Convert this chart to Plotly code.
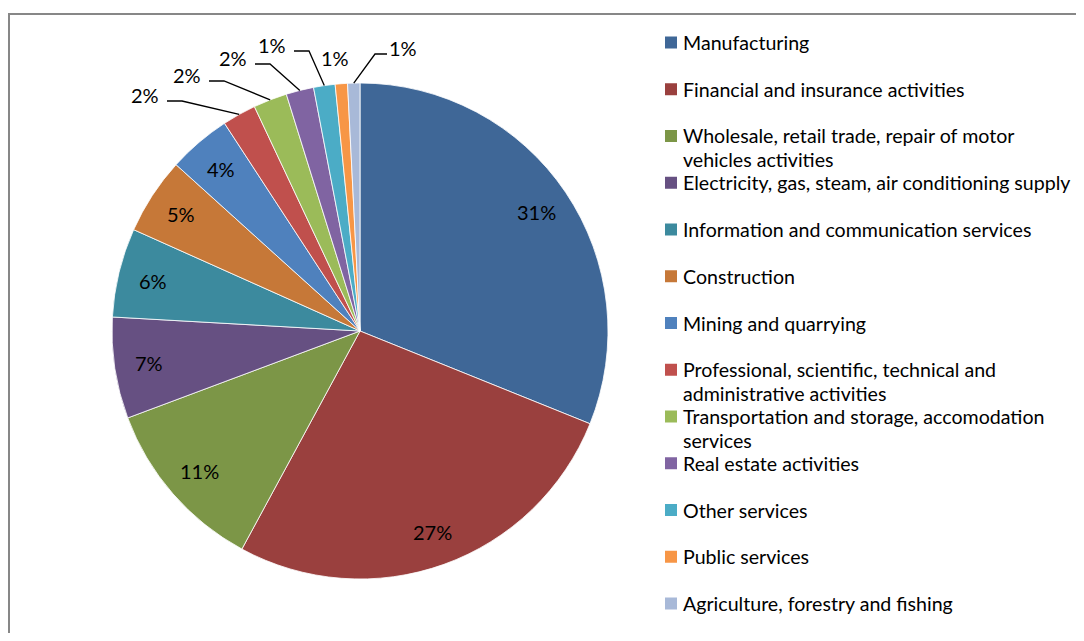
import math
import plotly.graph_objects as go

W, H = 1068, 625

# ---------------- data ----------------
sectors = [
    "Manufacturing",
    "Financial and insurance activities",
    "Wholesale, retail trade, repair of motor vehicles activities",
    "Electricity, gas, steam, air conditioning supply",
    "Information and communication services",
    "Construction",
    "Mining and quarrying",
    "Professional, scientific, technical and administrative activities",
    "Transportation and storage, accomodation services",
    "Real estate activities",
    "Other services",
    "Public services",
    "Agriculture, forestry and fishing",
]
shares = [31.1, 26.8, 11.4, 6.6, 5.8, 5.0, 4.1, 2.2, 2.2, 1.8, 1.4, 0.8, 0.8]
legend_lines = [
    ["Manufacturing"],
    ["Financial and insurance activities"],
    ["Wholesale, retail trade, repair of motor", "vehicles activities"],
    ["Electricity, gas, steam, air conditioning supply"],
    ["Information and communication services"],
    ["Construction"],
    ["Mining and quarrying"],
    ["Professional, scientific, technical and", "administrative activities"],
    ["Transportation and storage, accomodation", "services"],
    ["Real estate activities"],
    ["Other services"],
    ["Public services"],
    ["Agriculture, forestry and fishing"],
]

# ---------------- styles / layout ----------------
colors = ["#3F6797", "#9A403E", "#7C9647", "#665082", "#3C8A9E", "#C67838",
          "#4F81BD", "#C0504D", "#9BBB59", "#8064A2", "#4BACC6", "#F79646", "#A8B9D8"]
FONT = "Lato"
FS = 20
FS_LEG = 19.6
cx, cy, R = 360, 331, 248
OFF = 8  # page body margin in the browser

# outside label placement (pixel) for small slices: index -> (label center, elbow side)
outside = {
    7: ((145, 95), "right"),
    8: ((187, 75), "right"),
    9: ((233, 58), "right"),
    10: ((272, 45), "right"),
    11: ((335, 58), None),
    12: ((403, 48), "left"),
}

def X(px):
    return (px - OFF) / W

def Y(py):
    return 1 - (py - OFF) / H

fig = go.Figure(go.Pie(
    labels=sectors,
    values=shares,
    sort=False,
    direction="clockwise",
    rotation=0,
    marker=dict(colors=colors, line=dict(color="white", width=0.8)),
    textinfo="none",
    hoverinfo="label+percent",
    showlegend=False,
    domain=dict(x=[X(cx - R), X(cx + R)], y=[Y(cy + R), Y(cy - R)]),
))

annotations = []
shapes = []
total = sum(shares)
cum = 0.0
for i, v in enumerate(shares):
    mid = (cum + v / 2) / total * 2 * math.pi
    cum += v
    pct = f"{round(v / total * 100):.0f}%"
    if i not in outside:
        r = 0.86 * R
        lx = cx + r * math.sin(mid)
        ly = cy - r * math.cos(mid)
        annotations.append(dict(x=X(lx), y=Y(ly), xref="paper", yref="paper",
                                text=pct, showarrow=False,
                                font=dict(family=FONT, size=FS, color="black"),
                                xanchor="center", yanchor="middle"))
    else:
        (lx, ly), side = outside[i]
        annotations.append(dict(x=X(lx), y=Y(ly), xref="paper", yref="paper",
                                text=pct, showarrow=False,
                                font=dict(family=FONT, size=FS, color="black"),
                                xanchor="center", yanchor="middle"))
        if side:
            ex = cx + R * math.sin(mid)
            ey = cy - R * math.cos(mid)
            hy = ly + 6
            if side == "right":
                x0, x1 = lx + 22, lx + 37
            else:
                x0, x1 = lx - 16, lx - 28
            path = f"M {X(x0)} {Y(hy)} L {X(x1)} {Y(hy)} L {X(ex)} {Y(ey)}"
            shapes.append(dict(type="path", path=path, xref="paper", yref="paper",
                               line=dict(color="black", width=1.3)))

# manual legend (Excel style, fixed row pitch)
top, step, lh = 42.5, 46.75, 24
for i, lines in enumerate(legend_lines):
    yc = top + i * step
    shapes.append(dict(type="rect", xref="paper", yref="paper",
                       x0=X(665), x1=X(677), y0=Y(yc - 6), y1=Y(yc + 6),
                       fillcolor=colors[i], line=dict(width=0)))
    for j, t in enumerate(lines):
        annotations.append(dict(x=X(681), y=Y(yc + j * lh), xref="paper", yref="paper",
                                text=t, showarrow=False,
                                font=dict(family=FONT, size=FS_LEG, color="black"),
                                xanchor="left", yanchor="middle"))

# chart frame
shapes.append(dict(type="rect", xref="paper", yref="paper",
                   x0=X(9), x1=X(1100), y0=Y(660), y1=Y(14),
                   line=dict(color="#878787", width=2), fillcolor="rgba(0,0,0,0)"))

fig.update_layout(
    width=W, height=H,
    margin=dict(l=0, r=0, t=0, b=0),
    paper_bgcolor="white",
    plot_bgcolor="white",
    annotations=annotations,
    shapes=shapes,
    font=dict(family=FONT, size=FS, color="black"),
)

fig.write_html("out.html")
